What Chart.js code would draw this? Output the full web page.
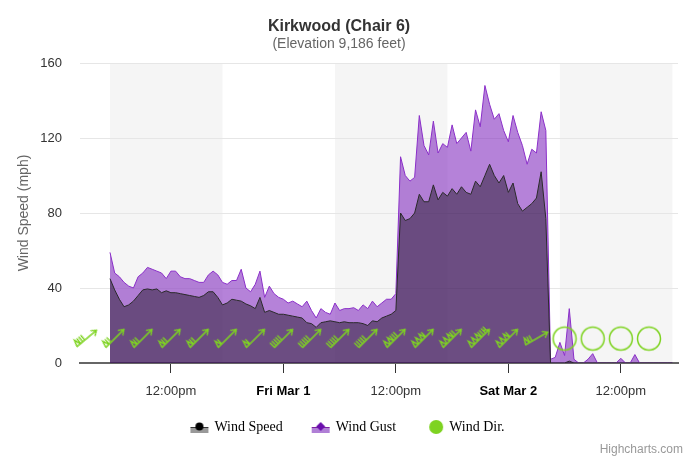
<!DOCTYPE html>
<html>
<head>
<meta charset="utf-8">
<script src="https://cdn.jsdelivr.net/npm/chart.js@4.4.1/dist/chart.umd.min.js"></script>
<style>
  html, body { margin: 0; padding: 0; background: #fff; }
  #wrap { position: relative; width: 690px; height: 459px; }
  #credits { position: absolute; right: 7px; bottom: 3px; font: 12px "Liberation Sans", Arial, sans-serif; color: #999; }
</style>
</head>
<body>
<div id="wrap">
  <canvas id="chart" width="690" height="459"></canvas>
  <div id="credits">Highcharts.com</div>
</div>
<script>
// Readings every half hour, hours counted from midnight of Thu Feb 29.
const startHour = 5.5;
const stepHours = 0.5;

const windSpeed = [
  45, 39, 34, 30, 31, 33, 36, 39, 39.5, 39,
  39.5, 37.5, 38.5, 37.5, 37.5, 37, 36.5, 36, 35.5, 35,
  36, 38, 38, 35, 31, 32, 34, 33.5, 33, 31.5,
  30.5, 29, 35, 27, 28, 27, 26, 26, 25.5, 25,
  24.5, 24, 21.5, 21, 19, 21.5, 22, 22.5, 22, 21.5,
  22, 21.5, 21.5, 21.5, 21, 20, 22.5, 22, 24, 25,
  26, 28, 80, 76, 77, 80, 90, 86, 86, 95,
  87, 91, 89, 93, 90, 94, 91, 90, 97, 94,
  100, 106, 100, 96, 100, 91, 96, 85, 81, 83,
  85, 88, 102, 77, 0, 0, 0, 0, 1, 0,
  0, 0, 0, 0, 0, 0, 0, 0, 0, 0,
  0, 0, 0, 0, 0, 0, 0, 0, 0, 0, 0
];

const windGust = [
  59, 48, 46, 43, 41, 40, 46, 48, 51, 50,
  49, 48, 45, 49, 49, 46, 45, 45, 44, 43,
  43, 47, 49, 47, 43, 42, 44, 44, 50, 40,
  38, 42, 49, 35, 41, 37, 35, 34, 32, 33,
  31.5, 30, 33, 28, 24, 29, 27, 26, 32, 28,
  29, 29, 29.5, 28, 31, 29, 33, 30, 32, 34,
  34, 37, 110, 100, 97, 99, 132, 116, 111, 129,
  112, 117, 115, 127, 117, 120, 123, 113, 135, 126,
  148, 138, 130, 133, 124, 118, 132, 123, 116, 106,
  114, 112, 134, 124, 2, 3, 11, 4, 29, 2,
  0, 0, 2, 5, 0, 0, 0, 0, 0, 2.5,
  0, 0, 4.5, 0, 0, 0, 0, 0, 0, 0, 0
];

const tickHours = [12, 24, 36, 48, 60];
const tickLabels = ['12:00pm', 'Fri Mar 1', '12:00pm', 'Sat Mar 2', '12:00pm'];
const tickBold = [false, true, false, true, false];

// daylight bands
const dayBands = [[5.5, 17.5], [29.5, 41.5], [53.5, 65.5]];

// wind direction glyphs, every 3 hours
const dirHours    = [3, 6, 9, 12, 15, 18, 21, 24, 27, 30, 33, 36, 39, 42, 45, 48, 51, 54, 57, 60, 63];
const dirFlags    = [1, 1, 1, 1, 1, 1, 1, 0, 0, 0, 0, 2, 3, 3, 3, 3, 1, 0, 0, 0, 0];
const dirBarbs    = [3, 2, 2, 2, 2, 1, 1, 5, 5, 5, 5, 3, 1, 2, 4, 1, 2, 0, 0, 0, 0];
const dirRotation = [-40, -45, -45, -45, -45, -45, -45, -45, -45, -45, -45, -45, -45, -45, -45, -45, -30, 0, 0, 0, 0];
const dirCalm     = [0, 0, 0, 0, 0, 0, 0, 0, 0, 0, 0, 0, 0, 0, 0, 0, 0, 1, 1, 1, 1];
const dirLevel = 13;

const legendNames = ['Wind Speed', 'Wind Gust', 'Wind Dir.'];

const GREEN = '#7ed321';
Chart.defaults.font.family = '"Liberation Sans", Arial, sans-serif';

// Glyph pointing east; the point rotation turns it.
function barbGlyph(flags, barbs) {
    const c = document.createElement('canvas');
    c.width = 32; c.height = 32;
    const g = c.getContext('2d');
    g.strokeStyle = GREEN;
    g.lineWidth = 1.4;
    g.beginPath();
    g.moveTo(3, 16); g.lineTo(29, 16);
    g.moveTo(24, 12.5); g.lineTo(29, 16); g.lineTo(24, 19.5);
    let s = 3.5;
    for (let i = 0; i < flags; i++) {
        g.moveTo(s, 16); g.lineTo(s + 2.2, 9.5); g.lineTo(s + 4.4, 16);
        s += 5;
    }
    for (let i = 0; i < barbs; i++) {
        g.moveTo(s, 16); g.lineTo(s, 9.5);
        s += 2.6;
    }
    g.stroke();
    return c;
}

function calmGlyph() {
    const c = document.createElement('canvas');
    c.width = 28; c.height = 28;
    const g = c.getContext('2d');
    g.strokeStyle = GREEN;
    g.lineWidth = 1.5;
    g.beginPath();
    g.arc(14, 14, 11.5, 0, Math.PI * 2);
    g.stroke();
    return c;
}

// legend symbols sit at the right end of a wider canvas, the blank part spaces the items
const ICON_W = 38;
function legendIcon(kind) {
    const c = document.createElement('canvas');
    c.width = ICON_W; c.height = 14;
    const g = c.getContext('2d');
    const o = ICON_W - 19;
    if (kind === 2) {
        g.fillStyle = GREEN;
        g.beginPath(); g.arc(o + 11, 7, 7, 0, Math.PI * 2); g.fill();
        return c;
    }
    g.fillStyle = kind === 0 ? '#999999' : '#b07fd6';
    g.fillRect(o, 7, 18, 6);
    g.fillStyle = kind === 0 ? '#333333' : '#7b1fa2';
    g.fillRect(o, 7, 18, 1);
    g.fillStyle = kind === 0 ? '#000000' : '#6a0dad';
    g.beginPath();
    if (kind === 0) {
        g.arc(o + 9, 6.5, 4, 0, Math.PI * 2);
    } else {
        g.moveTo(o + 9, 2); g.lineTo(o + 13.5, 6.5); g.lineTo(o + 9, 11); g.lineTo(o + 4.5, 6.5); g.closePath();
    }
    g.fill();
    return c;
}

const glyphs = dirHours.map((h, i) => dirCalm[i] ? calmGlyph() : barbGlyph(dirFlags[i], dirBarbs[i]));
const legendIcons = [legendIcon(0), legendIcon(1), legendIcon(2)];

const speedPoints = windSpeed.map((v, i) => ({ x: startHour + i * stepHours, y: v }));
const gustPoints = windGust.map((v, i) => ({ x: startHour + i * stepHours, y: v }));
const dirPoints = dirHours.map(h => ({ x: h, y: dirLevel }));

const bandsPlugin = {
    id: 'dayBands',
    beforeDraw(chart) {
        const { ctx, chartArea, scales: { x } } = chart;
        ctx.save();
        ctx.fillStyle = '#f5f5f5';
        for (const [a, b] of dayBands) {
            const x0 = x.getPixelForValue(a);
            const x1 = x.getPixelForValue(b);
            ctx.fillRect(x0, chartArea.top, x1 - x0, chartArea.bottom - chartArea.top);
        }
        ctx.restore();
    }
};

new Chart(document.getElementById('chart'), {
    type: 'line',
    data: {
        datasets: [{
            label: legendNames[0],
            data: speedPoints,
            order: 1,
            fill: 'origin',
            backgroundColor: 'rgba(0,0,0,0.4)',
            borderColor: '#2a2a2a',
            borderWidth: 1,
            pointRadius: 0,
            tension: 0
        }, {
            label: legendNames[1],
            data: gustPoints,
            order: 2,
            fill: 'origin',
            backgroundColor: 'rgba(128,40,190,0.58)',
            borderColor: '#8b2fc9',
            borderWidth: 1,
            pointRadius: 0,
            tension: 0
        }, {
            label: legendNames[2],
            type: 'scatter',
            data: dirPoints,
            order: 0,
            clip: false,
            pointRadius: 6,
            pointStyle: c => glyphs[c.dataIndex],
            rotation: c => dirRotation[c.dataIndex]
        }]
    },
    options: {
        responsive: false,
        animation: false,
        events: [],
        layout: { padding: { left: 0, right: 12, top: 0, bottom: 15 } },
        scales: {
            x: {
                type: 'linear',
                min: 2.3,
                max: 66.1,
                afterBuildTicks: s => { s.ticks = tickHours.map(v => ({ value: v })); },
                afterFit: s => { s.height = 45; },
                ticks: {
                    autoSkip: false,
                    maxRotation: 0,
                    padding: 11,
                    callback: (v, i) => tickLabels[i],
                    font: c => ({ size: 13, weight: tickBold[c.index] ? 'bold' : 'normal' }),
                    color: c => tickBold[c.index] ? '#000' : '#333'
                },
                grid: { drawOnChartArea: false, drawTicks: true, tickLength: 10, color: '#333', lineWidth: 1 },
                border: { display: true, color: '#666', width: 2 }
            },
            y: {
                min: 0,
                max: 160,
                afterFit: s => { s.width = 80; },
                ticks: { stepSize: 40, padding: 18, color: '#333', font: { size: 13 } },
                grid: { color: '#e6e6e6', drawTicks: false },
                border: { display: false },
                title: {
                    display: true,
                    text: 'Wind Speed (mph)',
                    color: '#666',
                    font: { size: 14 },
                    padding: { top: 16, bottom: 0 }
                }
            }
        },
        plugins: {
            title: {
                display: true,
                text: 'Kirkwood (Chair 6)',
                color: '#333',
                font: { size: 16, weight: 'bold' },
                padding: { top: 17, bottom: 0 }
            },
            subtitle: {
                display: true,
                text: '(Elevation 9,186 feet)',
                color: '#666',
                font: { size: 14 },
                padding: { top: 0, bottom: 10 }
            },
            legend: {
                position: 'bottom',
                labels: {
                    usePointStyle: true,
                    pointStyleWidth: ICON_W - 4,
                    padding: 12,
                    color: '#000',
                    font: { family: '"Liberation Serif", "Times New Roman", serif', size: 14 },
                    generateLabels: () => legendNames.map((t, i) => ({
                        text: t,
                        pointStyle: legendIcons[i],
                        datasetIndex: i,
                        hidden: false,
                        fontColor: '#000',
                        lineWidth: 0,
                        strokeStyle: 'transparent',
                        fillStyle: 'transparent'
                    }))
                }
            },
            tooltip: { enabled: false }
        }
    },
    plugins: [bandsPlugin]
});
</script>
</body>
</html>
